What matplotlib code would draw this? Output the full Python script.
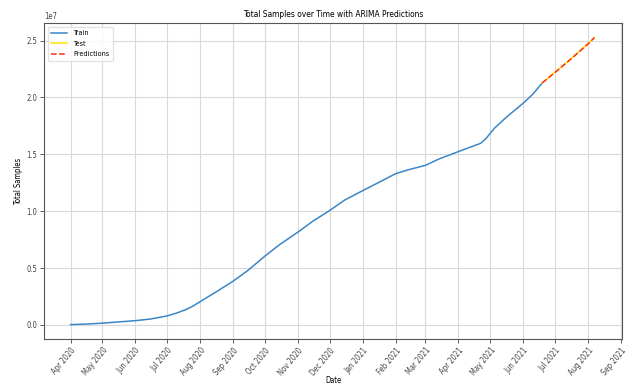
import matplotlib
matplotlib.use("Agg")
import matplotlib.pyplot as plt
import matplotlib.dates as mdates
import pandas as pd

plt.rcParams["font.family"] = ["DejaVu Sans"]
plt.rcParams["font.stretch"] = "condensed"

# Cumulative samples tested (training period)
train_dates = ["2020-04-01", "2020-04-15", "2020-05-01", "2020-05-15", "2020-06-01",
               "2020-06-15", "2020-07-01", "2020-07-10", "2020-07-19", "2020-07-25",
               "2020-08-01", "2020-08-15", "2020-09-01", "2020-09-15", "2020-10-01",
               "2020-10-15", "2020-11-01", "2020-11-15", "2020-12-01", "2020-12-15",
               "2021-01-01", "2021-01-14", "2021-02-01", "2021-02-14", "2021-03-01",
               "2021-03-14", "2021-04-01", "2021-04-22", "2021-04-27", "2021-05-05",
               "2021-05-16", "2021-06-01", "2021-06-10", "2021-06-19"]
train_values = [0.003e7, 0.008e7, 0.016e7, 0.026e7, 0.038e7,
                0.052e7, 0.080e7, 0.105e7, 0.137e7, 0.165e7,
                0.205e7, 0.285e7, 0.385e7, 0.480e7, 0.606e7,
                0.708e7, 0.816e7, 0.912e7, 1.007e7, 1.098e7,
                1.181e7, 1.243e7, 1.330e7, 1.367e7, 1.403e7,
                1.460e7, 1.524e7, 1.597e7, 1.639e7, 1.730e7,
                1.825e7, 1.949e7, 2.028e7, 2.128e7]

# Held-out test period and ARIMA forecast
test_dates = ["2021-06-19", "2021-07-01", "2021-07-15", "2021-08-01", "2021-08-07"]
test_values = [2.128e7, 2.222e7, 2.332e7, 2.472e7, 2.528e7]
pred_values = [2.128e7, 2.220e7, 2.330e7, 2.470e7, 2.525e7]

train = pd.Series(train_values, index=pd.to_datetime(train_dates))
test = pd.Series(test_values, index=pd.to_datetime(test_dates))
pred = pd.Series(pred_values, index=pd.to_datetime(test_dates))

fig, ax = plt.subplots(figsize=(6.41, 3.87), dpi=100)
fig.subplots_adjust(left=44 / 641, right=622 / 641, top=1 - 23 / 387, bottom=1 - 339 / 387)

ax.plot(train.index, train.values, color="#3a86c6", lw=1.1, label="Train")
ax.plot(test.index, test.values, color="#ffe600", lw=1.1, label="Test")
ax.plot(pred.index, pred.values, color="#ff2a1a", lw=1.1, ls="--", label="Predictions")

ax.set_xlim(pd.Timestamp("2020-03-07"), pd.Timestamp("2021-09-02"))

ax.set_title("Total Samples over Time with ARIMA Predictions", fontsize=6, pad=4)
ax.set_xlabel("Date", fontsize=5.5, labelpad=-1)
ax.set_ylabel("Total Samples", fontsize=5.5, labelpad=2)

ax.xaxis.set_major_locator(mdates.MonthLocator())
ax.xaxis.set_major_formatter(mdates.DateFormatter("%b %Y"))
ax.tick_params(axis="both", labelsize=5.5, colors="#444444", length=3, width=0.6, pad=2)
plt.setp(ax.get_xticklabels(), rotation=50, ha="right", rotation_mode="anchor")
ax.yaxis.get_offset_text().set_fontsize(5.5)

ax.grid(True, color="#d9d9d9", lw=0.8)
for s in ax.spines.values():
    s.set_color("#555555")
    s.set_linewidth(0.8)

ax.legend(loc="upper left", fontsize=5.2, framealpha=0.8, edgecolor="#dddddd",
          handlelength=2.2, borderpad=0.5, labelspacing=0.6)

fig.savefig("out.png", dpi=100)
